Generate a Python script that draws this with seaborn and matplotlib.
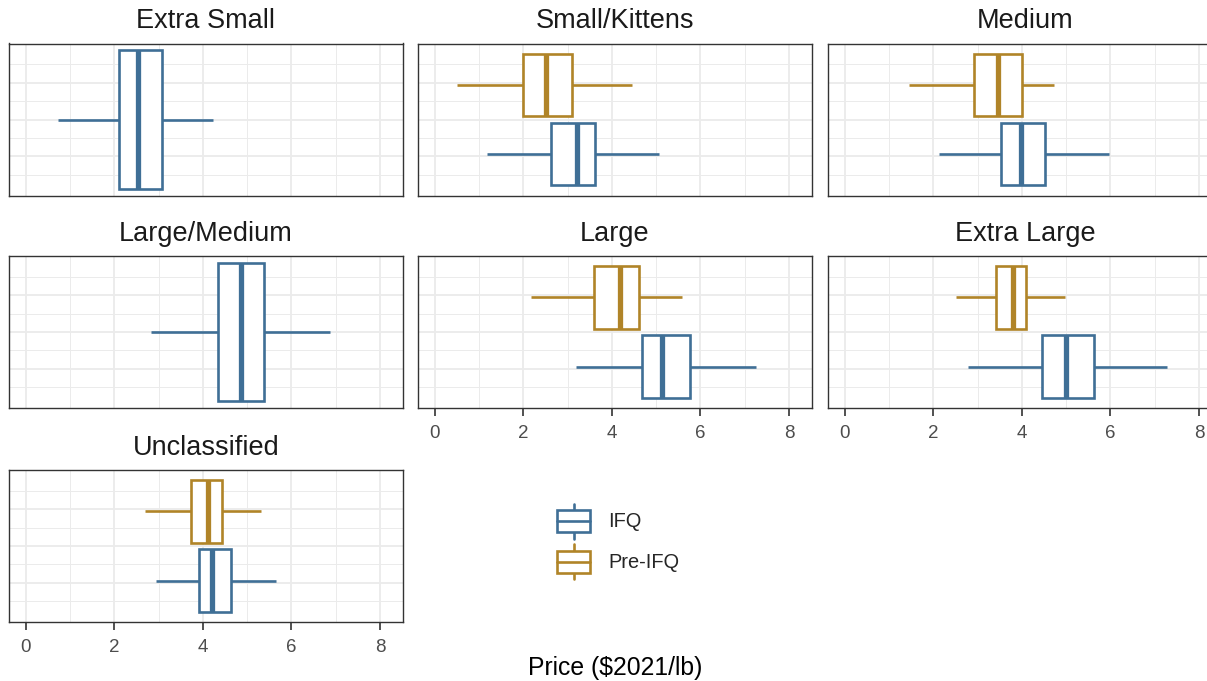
import numpy as np
import pandas as pd
import matplotlib
matplotlib.use("Agg")
import matplotlib.pyplot as plt
import seaborn as sns
from matplotlib.legend_handler import HandlerBase
from matplotlib.patches import Rectangle, Patch
from matplotlib.lines import Line2D

# --- DATA (5-number summaries: min, Q1, median, Q3, max) ---
sizes = ["Extra Small", "Small/Kittens", "Medium", "Large/Medium",
         "Large", "Extra Large", "Unclassified"]

ifq_summary = [
    [0.72, 2.10, 2.54, 3.07, 4.23],   # Extra Small
    [1.18, 2.62, 3.22, 3.61, 5.06],   # Small/Kittens
    [2.13, 3.53, 3.98, 4.53, 5.97],   # Medium
    [2.82, 4.35, 4.87, 5.39, 6.87],   # Large/Medium
    [3.19, 4.67, 5.12, 5.76, 7.26],   # Large
    [2.77, 4.46, 4.99, 5.63, 7.27],   # Extra Large
    [2.94, 3.90, 4.20, 4.63, 5.66],   # Unclassified
]
pre_summary = [
    None,
    [0.50, 2.00, 2.50, 3.10, 4.46],
    [1.45, 2.92, 3.46, 3.99, 4.73],
    None,
    [2.18, 3.60, 4.17, 4.61, 5.59],
    [2.50, 3.41, 3.79, 4.09, 4.97],
    [2.69, 3.72, 4.12, 4.44, 5.30],
]

x_ticks = [0, 2, 4, 6, 8]
colors = {"IFQ": "#3F6F96", "Pre-IFQ": "#B08428"}

rows = []
for s, ifq, pre in zip(sizes, ifq_summary, pre_summary):
    for v in ifq:
        rows.append((s, "IFQ", v))
    if pre is not None:
        for v in pre:
            rows.append((s, "Pre-IFQ", v))
df = pd.DataFrame(rows, columns=["size", "period", "price"])

# --- FIGURE ---
sns.set_style("white")
plt.rcParams["font.family"] = ["Liberation Sans", "DejaVu Sans"]
plt.rcParams["xtick.bottom"] = True

W, H = 1207, 681
fig = plt.figure(figsize=(W / 100, H / 100), dpi=100, facecolor="white")

col_left = [9, 418, 828]
row_top = [43.5, 256, 470]
pw, ph = 394, 152
bottom_panels = {"Large", "Extra Large", "Unclassified"}
LW = 1.9

for i, size in enumerate(sizes):
    r, c = divmod(i, 3)
    x0, y0 = col_left[c], row_top[r]
    ax = fig.add_axes([x0 / W, 1 - (y0 + ph) / H, pw / W, ph / H])
    sub = df[df["size"] == size]
    periods = [p for p in ["Pre-IFQ", "IFQ"] if p in set(sub["period"])]
    two = len(periods) == 2
    for p in periods:
        sns.boxplot(data=sub[sub["period"] == p], x="price", y="period",
                    order=periods, orient="h", color="white",
                    linecolor=colors[p], width=0.9 if two else 1.0,
                    linewidth=LW, whis=(0, 100), showcaps=False,
                    showfliers=False, medianprops=dict(linewidth=3.8),
                    ax=ax)
    if two:
        ax.set_ylim(1.6, -0.6)
        ax.set_yticks([-0.0333, 0.5, 1.0333])
        ax.set_yticks([-0.3, 0.2333, 0.7667, 1.3], minor=True)
    else:
        ax.set_ylim(0.55, -0.55)
        ax.set_yticks([-0.2667, 0, 0.2667])
        ax.set_yticks([-0.4, -0.1333, 0.1333, 0.4], minor=True)
    ax.set_yticklabels([])
    ax.tick_params(axis="y", which="both", length=0, left=False)

    ax.set_xlim(-0.384, 8.52)
    ax.set_xticks(x_ticks)
    ax.set_xticks([1, 3, 5, 7], minor=True)
    ax.grid(which="major", color="#EBEBEB", lw=1.3)
    ax.grid(which="minor", color="#EBEBEB", lw=0.7)
    ax.set_axisbelow(True)
    ax.set_xlabel("")
    ax.set_ylabel("")
    for sp in ax.spines.values():
        sp.set_visible(True)
        sp.set_color("#333333")
        sp.set_linewidth(1.0)

    if size in bottom_panels:
        ax.tick_params(axis="x", which="major", bottom=True, direction="out",
                       length=6, width=1.2, color="#333333", labelsize=13.5,
                       labelcolor="#4D4D4D", pad=6.5)
    else:
        ax.tick_params(axis="x", which="major", length=0, labelbottom=False)
    ax.tick_params(axis="x", which="minor", length=0)

    fig.text((x0 + pw / 2) / W, 1 - (y0 - 15) / H, size, ha="center",
             va="baseline", fontsize=19.5, color="#1A1A1A")

fig.text(615.5 / W, 1 - 668 / H, "Price ($2021/lb)", ha="center", va="center",
         fontsize=17.8, color="black")


# legend with boxplot-shaped keys
class BoxKey(HandlerBase):
    def create_artists(self, legend, orig_handle, xdescent, ydescent,
                       width, height, fontsize, trans):
        c = orig_handle.get_edgecolor()
        x0, y0 = -xdescent, -ydescent
        bh = height * 0.62
        by = y0 + (height - bh) / 2
        box = Rectangle((x0, by), width, bh, facecolor="white", edgecolor=c,
                        lw=LW, transform=trans)
        mid = Line2D([x0, x0 + width], [y0 + height / 2] * 2, color=c,
                     lw=LW, transform=trans)
        lo = Line2D([x0 + width / 2] * 2, [y0, by], color=c, lw=LW,
                    transform=trans)
        hi = Line2D([x0 + width / 2] * 2, [by + bh, y0 + height], color=c,
                    lw=LW, transform=trans)
        return [lo, hi, box, mid]


handles = [Patch(edgecolor=colors["IFQ"], facecolor="white", label="IFQ"),
           Patch(edgecolor=colors["Pre-IFQ"], facecolor="white", label="Pre-IFQ")]
fig.legend(handles=handles, labels=["IFQ", "Pre-IFQ"], handler_map={Patch: BoxKey()},
           loc="center left", bbox_to_anchor=(557 / W, 1 - 541.5 / H),
           frameon=False, fontsize=14.4, handlelength=1.65, handleheight=2.3,
           handletextpad=0.9, labelspacing=0.3, borderpad=0, borderaxespad=0)

fig.savefig("out.png", dpi=100)
